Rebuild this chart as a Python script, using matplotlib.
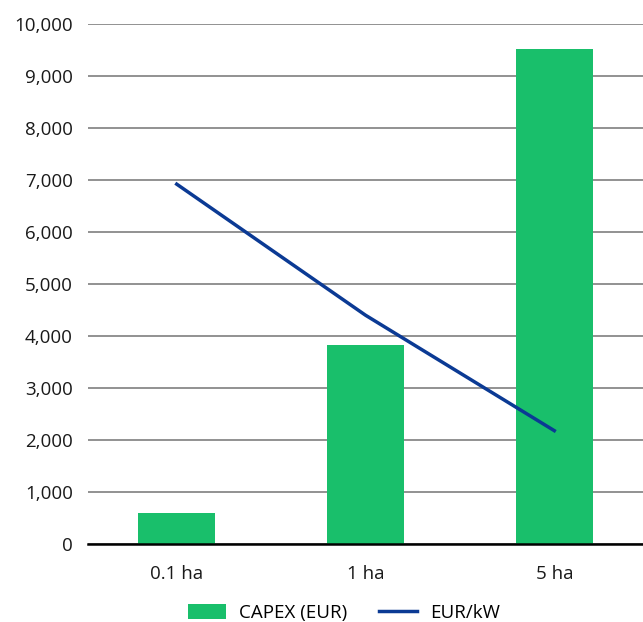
import matplotlib
matplotlib.use("Agg")
import matplotlib.pyplot as plt
from matplotlib.ticker import FuncFormatter, MultipleLocator
from matplotlib.patches import Patch
from matplotlib.lines import Line2D

categories = ["0.1 ha", "1 ha", "5 ha"]
capex = [600, 3830, 9520]
eur_per_kw = [6920, 4400, 2180]

plt.rcParams['font.family'] = ['Open Sans', 'DejaVu Sans']

fig = plt.figure(figsize=(6.43, 6.22), dpi=100)
ax = fig.add_axes([88 / 643, (622 - 544) / 622, (643 - 88) / 643, (544 - 24) / 622])

x = list(range(len(categories)))
green = "#19BF6B"
blue = "#0B3A94"
ax.bar(x, capex, width=0.41, color=green, zorder=2)
ax.plot(x, eur_per_kw, color=blue, linewidth=2.5, zorder=3)

ax.set_xlim(-0.47, 2.47)
ax.set_ylim(0, 10000)
ax.yaxis.set_major_locator(MultipleLocator(1000))
ax.yaxis.set_major_formatter(FuncFormatter(lambda v, p: f"{int(v):,}"))
ax.grid(axis='y', color='#7f7f7f', linewidth=1.2, zorder=0)
ax.set_axisbelow(True)
for s in ['top', 'right', 'left']:
    ax.spines[s].set_visible(False)
ax.spines['bottom'].set_color('black')
ax.spines['bottom'].set_linewidth(1.8)
ax.spines['bottom'].set_zorder(4)
ax.set_xticks(x)
ax.set_xticklabels(categories)
ax.tick_params(axis='both', length=0, labelsize=13.5, colors='#1a1a1a')
ax.tick_params(axis='y', pad=11)
ax.tick_params(axis='x', pad=15)

handles = [Patch(facecolor=green, label="CAPEX (EUR)"),
           Line2D([0], [0], color=blue, linewidth=2.5, label="EUR/kW")]
fig.legend(handles=handles, loc='center', bbox_to_anchor=(344 / 643, 1 - 613 / 622),
           ncol=2, frameon=False, fontsize=13.5, handlelength=2.0, handleheight=0.8,
           columnspacing=1.7, handletextpad=0.7)

fig.savefig("out.png", dpi=100)
